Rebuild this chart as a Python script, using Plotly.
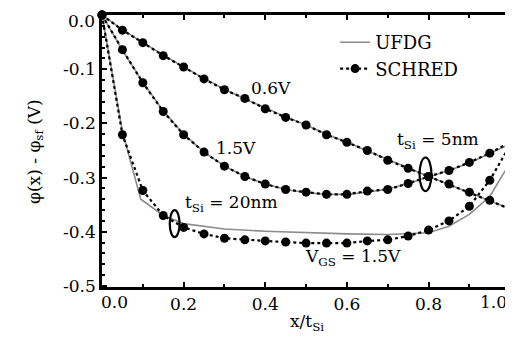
import plotly.graph_objects as go

# ---------------- data ----------------
x_pos = [0.00, 0.05, 0.10, 0.15, 0.20, 0.25, 0.30, 0.35, 0.40, 0.45, 0.50,
         0.55, 0.60, 0.65, 0.70, 0.75, 0.80, 0.85, 0.90, 0.95, 1.00]

# SCHRED, tSi = 5nm
schred_5nm_06V = [0.000, -0.028, -0.051, -0.075, -0.096, -0.118, -0.138, -0.154, -0.173, -0.189, -0.203,
                  -0.221, -0.235, -0.250, -0.268, -0.283, -0.298, -0.312, -0.327, -0.342, -0.358]
schred_5nm_15V = [0.000, -0.064, -0.125, -0.178, -0.221, -0.253, -0.279, -0.298, -0.312, -0.322, -0.327,
                  -0.331, -0.331, -0.325, -0.322, -0.311, -0.298, -0.287, -0.272, -0.255, -0.235]
# SCHRED, tSi = 20nm, VGS = 1.5V
schred_20nm_15V = [0.000, -0.221, -0.324, -0.370, -0.392, -0.404, -0.412, -0.415, -0.417, -0.419, -0.421,
                   -0.421, -0.421, -0.417, -0.415, -0.408, -0.397, -0.380, -0.353, -0.305, -0.240]

# UFDG, tSi = 5nm
ufdg_5nm_06V = [0.000, -0.027, -0.051, -0.074, -0.096, -0.117, -0.137, -0.155, -0.172, -0.188, -0.203,
                -0.220, -0.235, -0.251, -0.267, -0.283, -0.298, -0.313, -0.328, -0.343, -0.358]
ufdg_5nm_15V = [0.000, -0.065, -0.124, -0.177, -0.220, -0.253, -0.279, -0.298, -0.312, -0.322, -0.328,
                -0.331, -0.331, -0.327, -0.321, -0.311, -0.299, -0.287, -0.273, -0.256, -0.238]
# UFDG, tSi = 20nm
x_ufdg_20nm = [0.00, 0.05, 0.095, 0.15, 0.20, 0.30, 0.40, 0.50, 0.60, 0.70, 0.80, 0.85, 0.90, 0.95, 1.00]
ufdg_20nm_15V = [0.000, -0.215, -0.340, -0.370, -0.385, -0.395, -0.399, -0.402, -0.404, -0.405, -0.402,
                 -0.390, -0.368, -0.335, -0.272]

x_tick_vals = [0.0, 0.2, 0.4, 0.6, 0.8, 1.0]
x_tick_text = ["", "0.2", "0.4", "0.6", "0.8", ""]
x_first_label = "0.0"
x_last_label = "1.0"
y_tick_vals = [0.0, -0.1, -0.2, -0.3, -0.4, -0.5]
y_tick_text = ["", "-0.1", "-0.2", "-0.3", "-0.4", "-0.5"]
y_top_label = "0.0"
x_title = "x/t<sub>Si</sub>"
y_title = "\u03c6(x) - \u03c6<sub>sf</sub> (V)"

# ---------------- figure ----------------
FONT = "DejaVu Serif"
GRAY = "#8c8c8c"
fig = go.Figure()

def f(size=17):
    return dict(family=FONT, size=size, color="black")

ufdg_sets = [(x_pos, ufdg_5nm_06V), (x_pos, ufdg_5nm_15V), (x_ufdg_20nm, ufdg_20nm_15V)]
for i, (xs, ys) in enumerate(ufdg_sets):
    fig.add_trace(go.Scatter(x=xs, y=ys, mode="lines", name="UFDG",
                             line=dict(color=GRAY, width=1.6),
                             showlegend=(i == 0), cliponaxis=False))

schred_sets = [schred_5nm_06V, schred_5nm_15V, schred_20nm_15V]
for i, ys in enumerate(schred_sets):
    fig.add_trace(go.Scatter(x=x_pos, y=ys, mode="lines+markers", name="SCHRED",
                             line=dict(color="black", width=2.2, dash="dot"),
                             marker=dict(color="black", size=9),
                             showlegend=(i == 0), cliponaxis=False))

fig.add_annotation(x=0.413, y=-0.134, text="0.6V", showarrow=False, font=f())
fig.add_annotation(x=0.328, y=-0.245, text="1.5V", showarrow=False, font=f())
fig.add_annotation(x=0.822, y=-0.232, text="t<sub>Si</sub> = 5nm", showarrow=False, font=f())
fig.add_annotation(x=0.318, y=-0.347, text="t<sub>Si</sub> = 20nm", showarrow=False, font=f())
fig.add_annotation(x=0.614, y=-0.447, text="V<sub>GS</sub> = 1.5V", showarrow=False, font=f())

# end tick labels, pulled inside like in the original
fig.add_annotation(x=0.0, y=0, xref="x", yref="paper", yanchor="top", xanchor="left",
                   xshift=-3, yshift=-3, text=x_first_label, showarrow=False, font=f())
fig.add_annotation(x=1.0, y=0, xref="x", yref="paper", yanchor="top", xanchor="right",
                   xshift=-1, yshift=-3, text=x_last_label, showarrow=False, font=f())
fig.add_annotation(x=0, y=0.0, xref="paper", yref="y", xanchor="right", yanchor="middle",
                   xshift=-5, yshift=-6, text=y_top_label, showarrow=False, font=f())

# axis titles
fig.add_annotation(x=0.5, y=-0.132, xref="paper", yref="paper", xanchor="center", yanchor="middle",
                   text=x_title, showarrow=False, font=f())
fig.add_annotation(x=-0.164, y=0.5, xref="paper", yref="paper", xanchor="center", yanchor="middle",
                   textangle=-90, text=y_title, showarrow=False, font=f())

# ellipses marking the curve groups
fig.add_shape(type="circle", xref="x", yref="y", x0=0.778, x1=0.807, y0=-0.325, y1=-0.263,
              line=dict(color="black", width=2.2))
fig.add_shape(type="circle", xref="x", yref="y", x0=0.166, x1=0.19, y0=-0.41, y1=-0.36,
              line=dict(color="black", width=2.2))

axis_common = dict(showline=True, linecolor="black", linewidth=2.5, mirror="ticks",
                   ticks="inside", tickcolor="black", tickwidth=1.5, ticklen=5,
                   showgrid=False, zeroline=False, tickfont=f(), automargin=False,
                   ticklabeloverflow="allow")

fig.update_xaxes(range=[0, 1.002], tickvals=x_tick_vals, ticktext=x_tick_text,
                 minor=dict(dtick=0.1, ticks="inside", ticklen=3, tickcolor="black", tickwidth=1.5),
                 **axis_common)
fig.update_yaxes(range=[-0.502, 0.0], tickvals=y_tick_vals, ticktext=y_tick_text,
                 minor=dict(dtick=0.02, ticks="inside", ticklen=3, tickcolor="black", tickwidth=1.5),
                 **axis_common)

fig.update_layout(
    width=513, height=338,
    margin=dict(l=94, r=10, t=7, b=59, autoexpand=False),
    paper_bgcolor="white", plot_bgcolor="white",
    font=f(),
    legend=dict(x=0.57, y=0.967, xanchor="left", yanchor="top",
                bgcolor="rgba(0,0,0,0)", font=f(18),
                itemwidth=30, tracegroupgap=0),
)

fig.write_html("out.html")
